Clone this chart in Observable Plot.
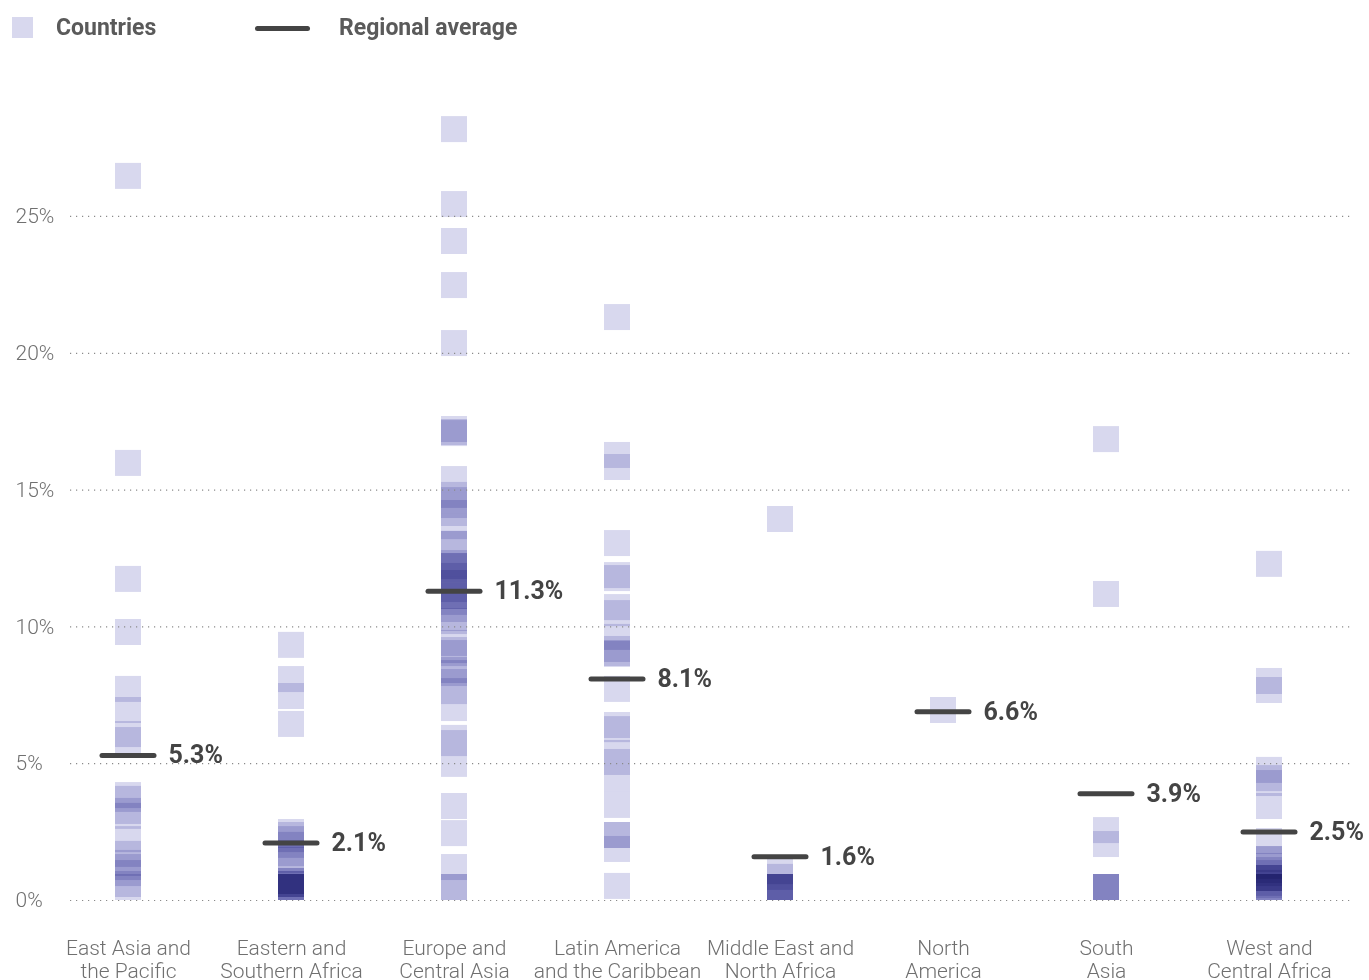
<!DOCTYPE html>
<html>
<head>
<meta charset="utf-8">
<script src="https://cdn.jsdelivr.net/npm/d3@7"></script>
<script src="https://cdn.jsdelivr.net/npm/@observablehq/plot@0.6"></script>
<style>
  html, body { margin: 0; padding: 0; background: #fff; overflow: hidden; }
  #legend { position: relative; height: 50px; font-family: Roboto, "Noto Sans", sans-serif; font-weight: 700; font-size: 23px; color: #5a5a5a; }
  #legend .sq { position: absolute; left: 12px; top: 17px; width: 21px; height: 21px; background: #d8d8ee; }
  #legend .ln { position: absolute; left: 255px; top: 25.5px; width: 55px; height: 5px; border-radius: 2.5px; background: #444; }
  #legend .lab { position: absolute; top: 14px; line-height: 28px; }
  #chart svg g[aria-label="bar"] rect { mix-blend-mode: multiply; }
</style>
</head>
<body>
<div id="legend">
  <div class="sq"></div><div class="lab" style="left:56px">Countries</div>
  <div class="ln"></div><div class="lab" style="left:339px">Regional average</div>
</div>
<div id="chart"></div>
<script>
const regions = ["EAP", "ESA", "ECA", "LAC", "MENA", "NA", "SA", "WCA"];
const regionLabels = [
  "East Asia and\nthe Pacific",
  "Eastern and\nSouthern Africa",
  "Europe and\nCentral Asia",
  "Latin America\nand the Caribbean",
  "Middle East and\nNorth Africa",
  "North\nAmerica",
  "South\nAsia",
  "West and\nCentral Africa"
];

// Country values (%), per region
const eapValues = [25.99, 15.50, 11.26, 9.32, 7.24, 6.47, 5.59, 5.37, 3.36, 3.22, 2.78, 2.60, 1.75, 1.21, 0.88, 0.73, 0.51, 0.11, 0.00];
const esaValues = [8.85, 7.60, 6.98, 5.96, 2.01, 1.90, 1.75, 1.54, 1.24, 1.06, 0.99, 0.22, 0.22, 0.11, 0.11, 0.11, 0, 0, 0, 0, 0];
const ecaValues = [27.70, 24.96, 23.61, 22.00, 19.88, 16.74, 16.63, 16.59,
  14.91, 14.33, 14.14, 13.96, 13.67, 13.19, 12.54, 12.54, 11.84, 11.73, 11.73, 11.59, 11.59, 11.37, 11.11,
  10.89, 10.78, 10.64, 10.64, 10.42, 10.16, 9.83, 9.72, 8.92, 8.66, 8.55, 7.93, 7.82, 7.49, 7.16, 6.54,
  5.45, 5.26, 4.50, 2.96, 1.97, 0.73, 0, 0];
const lacValues = [20.83, 15.79, 15.35, 12.57, 11.40, 11.29, 10.23, 10.01, 9.14, 8.70, 8.55, 8.52, 7.24,
  5.92, 5.77, 4.90, 4.57, 3.95, 3.00, 1.90, 1.90, 1.39, 0.04];
const menaValues = [13.45, 0.58, 0.37, 0, 0, 0, 0, 0, 0];
const naValues = [6.47];
const saValues = [16.37, 10.71, 2.08, 1.57, 0, 0, 0, 0];
const wcaValues = [11.81, 7.53, 7.20, 4.28, 3.98, 3.80, 2.96, 1.68, 1.02, 1.02, 0.77, 0.62, 0.51, 0.33, 0.33, 0.33, 0.15, 0.07, 0, 0, 0, 0];

// Regional averages (line position) and their printed labels
const avgValues = [5.3, 2.1, 11.3, 8.1, 1.6, 6.9, 3.9, 2.5];
const avgLabels = ["5.3%", "2.1%", "11.3%", "8.1%", "1.6%", "6.6%", "3.9%", "2.5%"];

const yTicks = [0, 5, 10, 15, 20, 25];

const valueLists = [eapValues, esaValues, ecaValues, lacValues, menaValues, naValues, saValues, wcaValues];
const countries = regions.flatMap((r, i) => valueLists[i].map(v => ({region: r, value: v})));
const averages = regions.map((r, i) => ({region: r, avg: avgValues[i], label: avgLabels[i]}));

const SQ = 0.95; // square height in % units (same as width on screen)

const chart = Plot.plot({
  width: 1369,
  height: 940,
  marginLeft: 70,
  marginRight: 19,
  marginTop: 62,
  marginBottom: 90,
  style: {fontFamily: "Roboto, 'Noto Sans', sans-serif", background: "#fff", overflow: "visible"},
  x: {type: "band", domain: regions, range: [113, 1283], paddingInner: 0.841, paddingOuter: 0, align: 0.5, label: null},
  y: {domain: [0, 28.8], label: null},
  marks: [
    Plot.barY(countries, {x: "region", y1: "value", y2: d => d.value + SQ, fill: "#d8d8ee"}),
    Plot.gridY({ticks: yTicks, stroke: "#8a8a8a", strokeOpacity: 1, strokeWidth: 1.2, strokeDasharray: "1.2,4.8"}),
    Plot.axisY({ticks: yTicks, label: null, tickSize: 0, tickPadding: 0, textAnchor: "start", dx: -55, fontSize: 21, fontWeight: 300, fill: "#707070", tickFormat: d => d + "%"}),
    Plot.axisX({label: null, tickSize: 0, tickPadding: 38, fontSize: 21, fontWeight: 300, fill: "#707070", lineHeight: 1.1, tickFormat: d => regionLabels[regions.indexOf(d)]}),
    Plot.tickY(averages, {x: "region", y: "avg", stroke: "#444", strokeWidth: 5, strokeLinecap: "round", insetLeft: -13, insetRight: -13}),
    Plot.text(averages, {x: "region", y: "avg", text: "label", textAnchor: "start", dx: 40, fontSize: 25, fontWeight: 700, fill: "#444"})
  ]
});
document.getElementById("chart").appendChild(chart);
</script>
</body>
</html>
